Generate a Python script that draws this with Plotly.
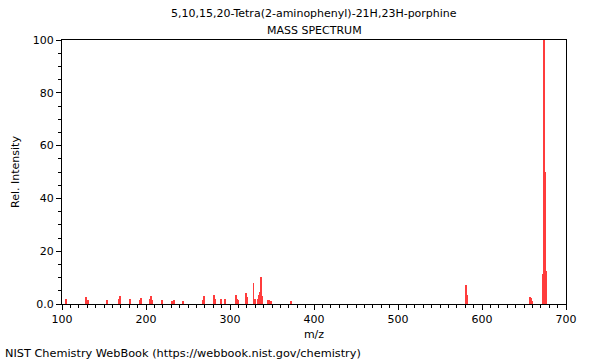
import plotly.graph_objects as go

title_line1 = "5,10,15,20-Tetra(2-aminophenyl)-21H,23H-porphine"
title_line2 = "MASS SPECTRUM"
footer = "NIST Chemistry WebBook (https://webbook.nist.gov/chemistry)"

mz = [105, 129, 131, 154, 168, 169, 181, 193, 194, 205, 206, 207, 219, 231, 233, 244,
      268, 269, 281, 282, 289, 294, 307, 308, 310, 319, 320, 328, 330, 333,
      335, 336, 337, 338, 345, 347, 349, 373,
      581, 582, 657, 658, 659, 673, 674, 675, 676]
intensity = [1.8, 2.8, 1.5, 1.5, 1.9, 3.1, 1.9, 1.5, 2.1, 2.0, 3.1, 1.5, 1.5, 1.2, 1.5, 1.2,
             1.5, 3.1, 3.4, 2.0, 1.8, 1.8, 3.4, 2.0, 1.5, 4.3, 2.5, 8.0, 2.0, 2.0,
             3.4, 4.5, 10.1, 3.0, 1.5, 1.5, 1.0, 1.2,
             7.2, 3.6, 2.8, 2.2, 1.2, 11.3, 100.0, 50.0, 12.5]

y_tickvals = [0, 20, 40, 60, 80, 100]
y_ticktext = ["0.0", "20", "40", "60", "80", "100"]
x_tickvals = [100, 200, 300, 400, 500, 600, 700]

fig = go.Figure()
fig.add_trace(go.Bar(x=mz, y=intensity, width=1.1,
                     marker=dict(color="rgb(255,60,60)", line=dict(width=0)),
                     hoverinfo="skip", showlegend=False))

font_family = "DejaVu Sans"
fig.update_layout(
    width=600, height=360,
    margin=dict(l=62, r=34, t=40, b=56),
    paper_bgcolor="white", plot_bgcolor="white",
    font=dict(family=font_family, size=11, color="black"),
    showlegend=False,
    hovermode=False,
    bargap=0,
)
fig.update_xaxes(
    range=[100, 700], tickvals=x_tickvals, ticks="outside", ticklen=5,
    tickcolor="black", showline=True, linecolor="black", linewidth=1,
    mirror=True, showgrid=False, zeroline=False,
    minor=dict(dtick=10, ticks="outside", ticklen=3, tickcolor="black", showgrid=False),
    title=dict(text="m/z", standoff=5, font=dict(size=11)),
    tickfont=dict(size=11),
)
fig.update_yaxes(
    range=[0, 100], tickvals=y_tickvals, ticktext=y_ticktext, ticks="outside",
    ticklen=5, tickcolor="black", showline=True, linecolor="black", linewidth=1,
    mirror=True, showgrid=False, zeroline=False,
    minor=dict(dtick=5, ticks="outside", ticklen=3, tickcolor="black", showgrid=False),
    title=dict(text="Rel. Intensity", standoff=10, font=dict(size=11)),
    tickfont=dict(size=11),
)
fig.add_annotation(text=title_line1, xref="paper", yref="paper", x=0.5, y=1,
                   yshift=27, showarrow=False, xanchor="center", yanchor="middle",
                   font=dict(size=11))
fig.add_annotation(text=title_line2, xref="paper", yref="paper", x=0.5, y=1,
                   yshift=10, showarrow=False, xanchor="center", yanchor="middle",
                   font=dict(size=11))
fig.add_annotation(text=footer, xref="paper", yref="paper", x=-59/504, y=0,
                   yshift=-49, showarrow=False, xanchor="left", yanchor="middle",
                   font=dict(size=11.3))

fig.write_html("out.html", config={"displayModeBar": False},
               post_script="document.body.style.margin='0';document.body.style.overflow='hidden';")
